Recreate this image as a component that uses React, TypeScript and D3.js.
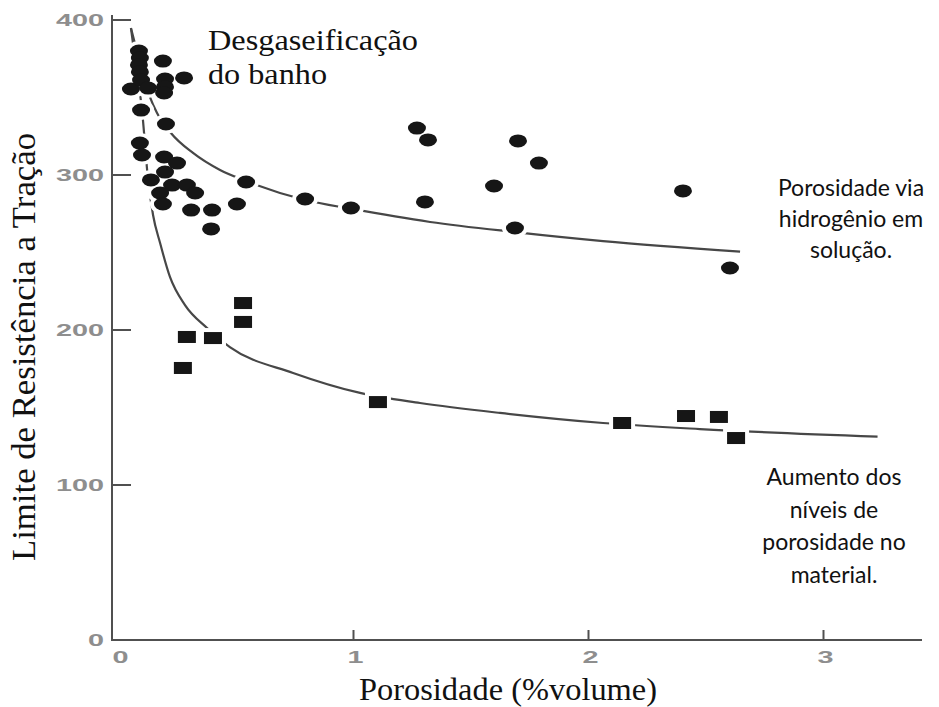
import React from 'react';
import * as d3 from 'd3';

const W = 939;
const H = 707;

// Axis ticks
const xTickValues = [0, 1, 2, 3];
const yTickValues = [0, 100, 200, 300, 400];

// Circles: porosity via hydrogen in solution (x = %volume, y = tensile strength)
const circleX = [0.053, 0.087, 0.091, 0.087, 0.091, 0.096, 0.126, 0.189, 0.198, 0.198, 0.194, 0.279,
  0.096, 0.202, 0.091, 0.1, 0.194, 0.249, 0.198, 0.138, 0.228, 0.291, 0.177, 0.326, 0.189, 0.309,
  0.398, 0.504, 0.543, 0.394, 0.794, 0.989, 1.27, 1.317, 1.304, 1.598, 1.7, 1.789, 1.687, 2.402, 2.602];
const circleY = [355.5, 380, 375.5, 371, 366.5, 361.3, 356.1, 373.5, 361.9, 356.8, 352.9, 362.6,
  341.9, 332.9, 320.6, 312.9, 311.6, 307.7, 301.9, 296.8, 293.5, 293.5, 288.4, 288.4, 281.3, 277.4,
  277.4, 281.3, 295.5, 265.2, 284.5, 278.7, 330.3, 322.6, 282.6, 292.9, 322, 307.7, 265.8, 289.7, 240];

// Squares: increased porosity levels in the material
const squareX = [0.53, 0.53, 0.291, 0.402, 0.274, 1.104, 2.143, 2.415, 2.555, 2.628];
const squareY = [217.4, 205.2, 195.5, 194.8, 175.5, 153.5, 140, 144.5, 143.9, 130.3];

// Trend curves
const upperCurveX = [0.053, 0.091, 0.134, 0.164, 0.223, 0.317, 0.432, 0.543, 0.794, 0.994, 1.326, 1.687, 2.062, 2.645];
const upperCurveY = [394.8, 372.9, 350.3, 340, 327.1, 314.2, 303.2, 296.1, 283.9, 278.1, 269.7, 263.2, 257.4, 250.6];
const lowerCurveX = [0.053, 0.074, 0.1, 0.126, 0.147, 0.177, 0.219, 0.283, 0.377, 0.474, 0.743, 1.028, 1.283, 1.623, 2.062, 2.474, 3.23];
const lowerCurveY = [394.8, 371, 341.9, 296.8, 274.2, 256.1, 234.2, 216.1, 201.3, 189, 172.3, 159.4, 152.9, 146.5, 140, 136.1, 131.2];

const yTitle = 'Limite de Resistência a Tração';
const xTitle = 'Porosidade (%volume)';
const topNote = ['Desgaseificação', 'do banho'];
const hydroNote = ['Porosidade via', 'hidrogênio em', 'solução.'];
const porNote = ['Aumento dos', 'níveis de', 'porosidade no', 'material.'];

const x = d3.scaleLinear().domain([0, 3]).range([118.5, 823.5]);
const y = d3.scaleLinear().domain([0, 400]).range([640, 20]);

const AXIS = '#505050';
const INK = '#161616';

export default function App() {
  const line = d3
    .line<[number, number]>()
    .x((d) => x(d[0]))
    .y((d) => y(d[1]))
    .curve(d3.curveMonotoneX);
  const upper = line(upperCurveX.map((v, i) => [v, upperCurveY[i]] as [number, number])) || '';
  const lower = line(lowerCurveX.map((v, i) => [v, lowerCurveY[i]] as [number, number])) || '';

  const axisX = x(0) - 6.5;
  const axisY = y(0);
  const circles = circleX.map((v, i) => ({ cx: x(v), cy: y(circleY[i]) }));
  const squares = squareX.map((v, i) => ({ cx: x(v), cy: y(squareY[i]) }));

  const tickFont = { fontFamily: 'Liberation Sans, Arial, sans-serif', fontWeight: 700, fontSize: 16, fill: '#8e8e8e' } as const;
  const serif = 'Liberation Serif, Times New Roman, serif';

  return (
    <svg width={W} height={H} style={{ position: 'absolute', left: 0, top: 0, background: '#fff' }}>
      <rect x={0} y={0} width={W} height={H} fill="#fff" />
      {/* axes */}
      <line x1={axisX} x2={axisX} y1={15} y2={axisY + 1} stroke={AXIS} strokeWidth={2} />
      <line x1={axisX - 1} x2={922} y1={axisY} y2={axisY} stroke={AXIS} strokeWidth={2} />
      {yTickValues.filter((t) => t > 0).map((t) => (
        <line key={'yt' + t} x1={axisX} x2={axisX + 19} y1={y(t)} y2={y(t)} stroke={AXIS} strokeWidth={2} />
      ))}
      {xTickValues.filter((t) => t > 0).map((t) => (
        <line key={'xt' + t} x1={x(t)} x2={x(t)} y1={axisY} y2={axisY - 10} stroke={AXIS} strokeWidth={2} />
      ))}
      {yTickValues.map((t) => (
        <g key={'yl' + t} transform={`translate(104,${y(t) + 6}) scale(1.8,1)`}>
          <text textAnchor="end" {...tickFont}>{t}</text>
        </g>
      ))}
      {xTickValues.map((t) => (
        <g key={'xl' + t} transform={`translate(${x(t) + 2},663) scale(1.8,1)`}>
          <text textAnchor="middle" {...tickFont}>{t}</text>
        </g>
      ))}

      {/* curves */}
      <path d={upper} fill="none" stroke="#474747" strokeWidth={2.2} />
      <path d={lower} fill="none" stroke="#474747" strokeWidth={2.2} />

      {/* halos */}
      {circles.map((c, i) => (
        <ellipse key={'hc' + i} cx={c.cx} cy={c.cy} rx={13} ry={10} fill="#fff" />
      ))}
      {squares.map((c, i) => (
        <rect key={'hs' + i} x={c.cx - 13} y={c.cy - 10} width={26} height={20} fill="#fff" />
      ))}

      {/* markers */}
      {circles.map((c, i) => (
        <ellipse key={'c' + i} cx={c.cx} cy={c.cy} rx={9} ry={6.5} fill={INK} />
      ))}
      {squares.map((c, i) => (
        <rect key={'s' + i} x={c.cx - 9} y={c.cy - 6} width={18} height={12} fill={INK} />
      ))}

      {/* titles */}
      <text
        transform={`translate(35,347) rotate(-90)`}
        textAnchor="middle"
        fontFamily={serif}
        fontSize={33}
        fill="#111"
        textLength={428}
        lengthAdjust="spacingAndGlyphs"
      >
        {yTitle}
      </text>
      <text x={508} y={700} textAnchor="middle" fontFamily={serif} fontSize={32} fill="#111" textLength={298} lengthAdjust="spacingAndGlyphs">
        {xTitle}
      </text>
      <text x={208} y={50} fontFamily={serif} fontSize={30} fill="#111" textLength={210} lengthAdjust="spacingAndGlyphs">
        {topNote[0]}
      </text>
      <text x={208} y={84} fontFamily={serif} fontSize={30} fill="#111" textLength={119} lengthAdjust="spacingAndGlyphs">
        {topNote[1]}
      </text>
      {hydroNote.map((s, i) => (
        <text key={'h' + i} x={851} y={196 + i * 31} textAnchor="middle" fontFamily="Lato, sans-serif" fontSize={23} fill="#111">
          {s}
        </text>
      ))}
      {porNote.map((s, i) => (
        <text key={'p' + i} x={834} y={485 + i * 32.7} textAnchor="middle" fontFamily="Lato, sans-serif" fontSize={23} fill="#111">
          {s}
        </text>
      ))}
    </svg>
  );
}
